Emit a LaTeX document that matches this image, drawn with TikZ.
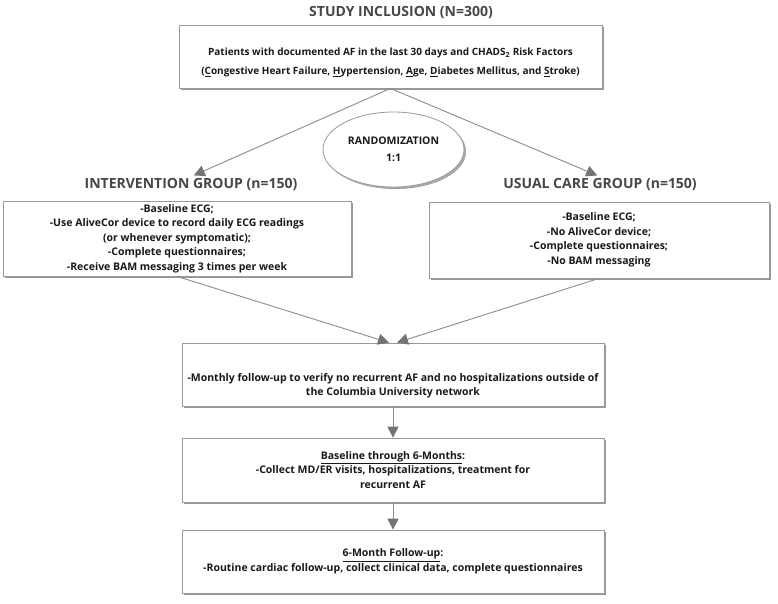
\documentclass[tikz,border=0pt]{standalone}
\usepackage{fontspec}
\setmainfont{Open Sans}
\usetikzlibrary{positioning,arrows.meta,shadows,shapes.geometric}

\tikzset{
  box/.style={draw=black!40, fill=white, line width=0.8pt, inner sep=0pt,
    drop shadow={shadow xshift=2pt, shadow yshift=-2pt, fill=black!45, opacity=0.9},
    align=center, text=black!90, font=\bfseries\fontsize{10.5}{14.5}\selectfont},
  bodytext/.style={align=center, text=black!90, font=\bfseries\fontsize{10.5}{14.5}\selectfont},
  grouptitle/.style={text=black!72, inner sep=2pt, font=\bfseries\fontsize{14}{16}\selectfont},
  link/.style={draw=black!45, line width=0.9pt,
    -{Triangle[length=11pt,width=11pt,fill=black!55,color=black!55]}}
}

\begin{document}
\begin{tikzpicture}[x=1pt,y=-1pt]
\useasboundingbox[fill=white] (0,0) rectangle (778,603);

% titles
\node[grouptitle] (studyTitle) at (401,13) {STUDY INCLUSION (N=300)};
\node[grouptitle] (intTitle) at (191,185) {INTERVENTION GROUP (n=150)};
\node[grouptitle] (ucTitle) at (600,185) {USUAL CARE GROUP (n=150)};

% inclusion box
\node[box, minimum width=423pt, minimum height=63pt] (incl) at (390.5,56.5) {};
\node[bodytext, font=\bfseries\fontsize{10}{19}\selectfont] at ([yshift=-6pt]incl.center)
  {Patients with documented AF in the last 30 days and CHADS\textsubscript{2} Risk Factors\\
   (\underline{C}ongestive Heart Failure, \underline{H}ypertension, \underline{A}ge, \underline{D}iabetes Mellitus, and \underline{S}troke)};

% randomization
\node[box, ellipse, minimum width=141pt, minimum height=75pt,
  drop shadow={shadow xshift=1.5pt, shadow yshift=-1.5pt, fill=black!25},
  font=\bfseries\fontsize{10.5}{17}\selectfont] (rand) at (393.5,149.5) {RANDOMIZATION\\1:1};

% group boxes
\node[box, minimum width=348pt, minimum height=75pt] (intBox) at (177,238.5)
  {-Baseline ECG;\\
   -Use AliveCor device to record daily ECG readings\\
   (or whenever symptomatic);\\
   -Complete questionnaires;\\
   -Receive BAM messaging 3 times per week};
\node[box, minimum width=340pt, minimum height=76pt] (ucBox) at (599,240)
  {-Baseline ECG;\\
   -No AliveCor device;\\
   -Complete questionnaires;\\
   -No BAM messaging};

% follow-up boxes
\node[box, minimum width=422pt, minimum height=63pt] (follow) at (393,374.5) {};
\node[bodytext] at ([yshift=-11pt]follow.center)
  {-Monthly follow-up to verify no recurrent AF and no hospitalizations outside of\\
   the Columbia University network};
\node[box, minimum width=422pt, minimum height=64pt] (baseline) at (393,470)
  {\underline{Baseline through 6-Months}:\\
   -Collect MD/ER visits, hospitalizations, treatment for\\
   recurrent AF};
\node[box, minimum width=422pt, minimum height=63pt] (sixMonth) at (393,561.5)
  {\underline{6-Month Follow-up}:\\
   -Routine cardiac follow-up, collect clinical data, complete questionnaires};

% arrows
\draw[link, shorten >=3pt] (incl.south) -- (intTitle.north);
\draw[link, shorten >=3pt] (incl.south) -- (ucTitle.north);
\draw[link] (intBox.south) -- ([xshift=-4pt]follow.north);
\draw[link] (ucBox.south) -- ([xshift=4pt]follow.north);
\draw[link] (follow.south) -- (baseline.north);
\draw[link] (baseline.south) -- (sixMonth.north);
\end{tikzpicture}
\end{document}
